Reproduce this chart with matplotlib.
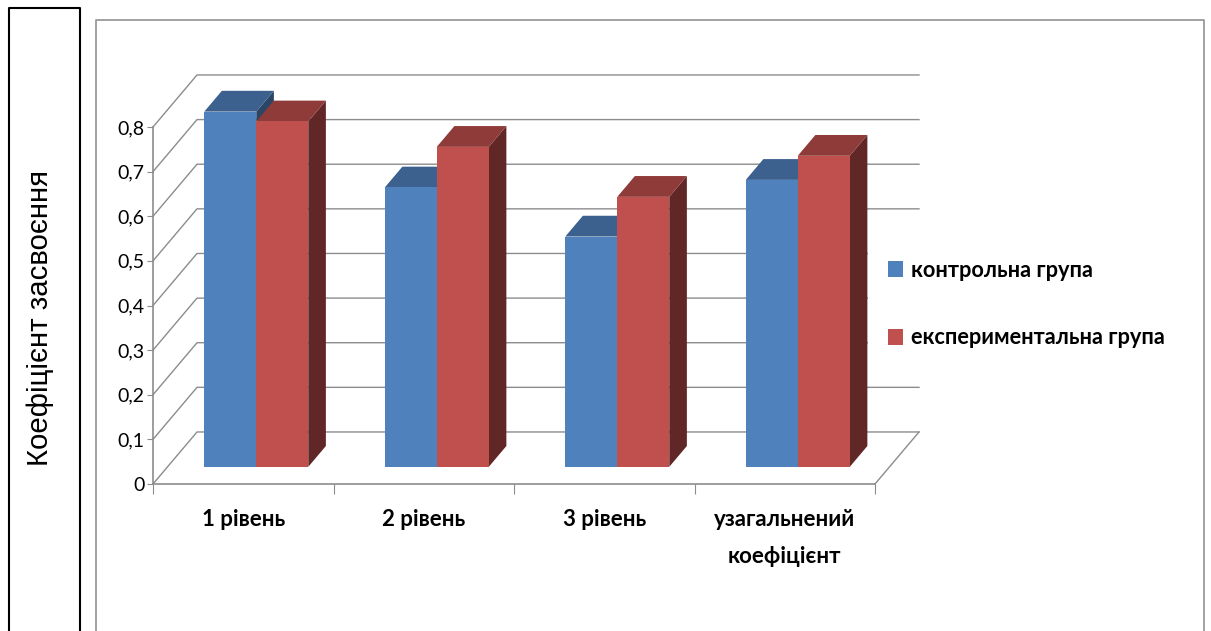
import matplotlib
matplotlib.use("Agg")
import matplotlib.pyplot as plt
from matplotlib.patches import Polygon
from matplotlib.lines import Line2D
from matplotlib.ticker import FuncFormatter

plt.rcParams['font.family'] = ['Lato', 'Open Sans', 'DejaVu Sans']

categories = ['1 рівень', '2 рівень', '3 рівень', 'узагальнений\nкоефіцієнт']
control = [0.796, 0.626, 0.516, 0.643]
experiment = [0.774, 0.717, 0.605, 0.697]
series_names = ['контрольна група', 'експериментальна група']
yticks = [0, 0.1, 0.2, 0.3, 0.4, 0.5, 0.6, 0.7, 0.8]
ylabel_text = 'Коефіцієнт засвоєння'

W, H = 1211, 631
GRID = '#8c8c8c'

# depth of the fake 3d box, in data units
DX = 44 / 180.5
DY = 52 / 446
BAR_D0 = 0.33
BAR_D1 = 0.73
BAR_W = 52 / 180.5
BAR_SHIFT = -1.5 / 180.5


def proj(x, y, d):
    return x + d * DX, y + d * DY


def bar3d(ax, x, val, color, top, side, label):
    x0, b = proj(x - BAR_W / 2, 0, BAR_D0)
    xa, ya = proj(x + BAR_W / 2, 0, BAR_D0)
    xb, yb = proj(x + BAR_W / 2, 0, BAR_D1)
    xc, _ = proj(x - BAR_W / 2, 0, BAR_D1)
    ax.add_patch(Polygon([(xa, ya), (xb, yb), (xb, yb + val), (xa, ya + val)],
                         fc=side, ec='none', clip_on=False, zorder=3))
    ax.add_patch(Polygon([(x0, b + val), (xa, b + val), (xb, yb + val), (xc, yb + val)],
                         fc=top, ec='none', clip_on=False, zorder=3))
    ax.bar(x0, val, BAR_W, bottom=b, align='edge', color=color, label=label,
           clip_on=False, zorder=3)


fig = plt.figure(figsize=(W / 100, H / 100), dpi=100)
ax = fig.add_axes([153 / W, 1 - 484 / H, (875 - 153) / W, (484 - 127) / H])
ax.set_xlim(0, 4)
ax.set_ylim(0, 0.8)
ax.patch.set_visible(False)

# back wall + floor + side wall lines
for v in yticks:
    x0, y0 = proj(0, v, 0)
    x1, y1 = proj(0, v, 1)
    x2, y2 = proj(4, v, 1)
    ax.plot([x0, x1, x2], [y0, y1, y2], color=GRID, lw=1, clip_on=False, zorder=1)
x1, y1 = proj(4, 0, 0)
x2, y2 = proj(4, 0, 1)
ax.plot([x1, x2], [y1, y2], color=GRID, lw=1, clip_on=False, zorder=1)

for i in range(len(categories)):
    bar3d(ax, i + 0.5 + BAR_SHIFT - BAR_W / 2, control[i], '#4F81BD', '#3C618F', '#2A4566',
          series_names[0] if i == 0 else None)
    bar3d(ax, i + 0.5 + BAR_SHIFT + BAR_W / 2, experiment[i], '#C0504D', '#8E3B39', '#602726',
          series_names[1] if i == 0 else None)

for s in ['top', 'right']:
    ax.spines[s].set_visible(False)
for s in ['left', 'bottom']:
    ax.spines[s].set_color(GRID)
    ax.spines[s].set_linewidth(1.2)

ax.set_yticks(yticks)
ax.yaxis.set_major_formatter(FuncFormatter(lambda v, p: f'{v:.1f}'.replace('.', ',') if v else '0'))
ax.tick_params(axis='y', length=4, color=GRID, labelsize=14, pad=2, labelcolor='black')
ax.set_xticks(range(5))
ax.set_xticklabels([])
ax.tick_params(axis='x', which='major', length=7, color=GRID)
ax.set_xticks([i + 0.5 for i in range(4)], categories, minor=True, fontweight='bold', fontsize=16)
ax.tick_params(axis='x', which='minor', length=0, pad=18)
for t in ax.get_xticklabels(minor=True):
    t.set_linespacing(1.95)
    t.set_verticalalignment('top')

leg = ax.legend(loc='center left', bbox_to_anchor=(868 / W, 1 - 304 / H),
                bbox_transform=fig.transFigure,
                prop={'weight': 'bold', 'size': 15.7}, frameon=True, facecolor='white',
                edgecolor='none', framealpha=1, handlelength=0.69, handleheight=0.78,
                handletextpad=0.38, labelspacing=2.15, borderpad=0.92, borderaxespad=0,
                fancybox=False)
leg.set_zorder(2)

# outer frames from the page
fig.add_artist(Line2D([96 / W, 96 / W, 1204 / W, 1204 / W],
                      [0, 1 - 20 / H, 1 - 20 / H, 0], color='#9a9a9a', lw=1.3))
fig.add_artist(Line2D([9 / W, 9 / W, 80 / W, 80 / W],
                      [0, 1 - 8 / H, 1 - 8 / H, 0], color='black', lw=1.5))
fig.text(40 / W, 1 - 318 / H, ylabel_text, rotation=90, ha='center', va='center',
         fontsize=21.2, family=['Liberation Sans'])

fig.savefig('out.png', dpi=100)
